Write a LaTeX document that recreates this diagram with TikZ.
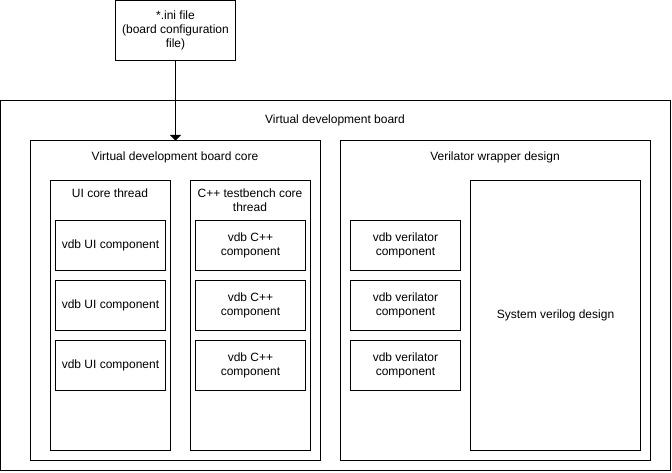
\documentclass[tikz,border=0pt]{standalone}
\usepackage{fontspec}
\setmainfont{Liberation Sans}
\usetikzlibrary{arrows}
\begin{document}
\begin{tikzpicture}[x=1pt, y=-1pt, line width=1pt,
		font=\fontsize{12}{14}\selectfont,
		box/.style={rectangle,draw,anchor=north west,inner sep=0pt,outer sep=0pt,align=center},
		title/.style={align=center,inner sep=0pt}]
		\useasboundingbox (0,0) rectangle (672,472);

		\node[box,minimum width=120,minimum height=60] (ini) at (115.5,0.5) {*.ini file\\(board configuration\\file)};

		\node[box,minimum width=670,minimum height=370] (board) at (0.5,100.5) {};
		\node[title] (boardtitle) at (335,120) {Virtual development board};

		\node[box,minimum width=290,minimum height=320] (core) at (30.5,140.5) {};
		\node[title] (coretitle) at (175,157) {Virtual development board core};

		\node[box,minimum width=120,minimum height=270] (uithread) at (50.5,180.5) {};
		\node[title] (uititle) at (110,193) {UI core thread};
		\node[box,minimum width=110,minimum height=50] (ui1) at (55.5,220.5) {vdb UI component};
		\node[box,minimum width=110,minimum height=50] (ui2) at (55.5,280.5) {vdb UI component};
		\node[box,minimum width=110,minimum height=50] (ui3) at (55.5,340.5) {vdb UI component};

		\node[box,minimum width=120,minimum height=270] (cppthread) at (190.5,180.5) {};
		\node[title] (cpptitle) at (250,200) {C++ testbench core\\thread};
		\node[box,minimum width=110,minimum height=50] (cpp1) at (195.5,220.5) {vdb C++\\component};
		\node[box,minimum width=110,minimum height=50] (cpp2) at (195.5,280.5) {vdb C++\\component};
		\node[box,minimum width=110,minimum height=50] (cpp3) at (195.5,340.5) {vdb C++\\component};

		\node[box,minimum width=310,minimum height=320] (wrapper) at (340.5,140.5) {};
		\node[title] (wrappertitle) at (495,157) {Verilator wrapper design};
		\node[box,minimum width=110,minimum height=50] (ver1) at (350.5,220.5) {vdb verilator\\component};
		\node[box,minimum width=110,minimum height=50] (ver2) at (350.5,280.5) {vdb verilator\\component};
		\node[box,minimum width=110,minimum height=50] (ver3) at (350.5,340.5) {vdb verilator\\component};
		\node[box,minimum width=170,minimum height=270] (sv) at (470.5,180.5) {System verilog design};

		\draw [->,>=triangle 90] (ini.south) -- (ini.south |- core.north);
\end{tikzpicture}
\end{document}
